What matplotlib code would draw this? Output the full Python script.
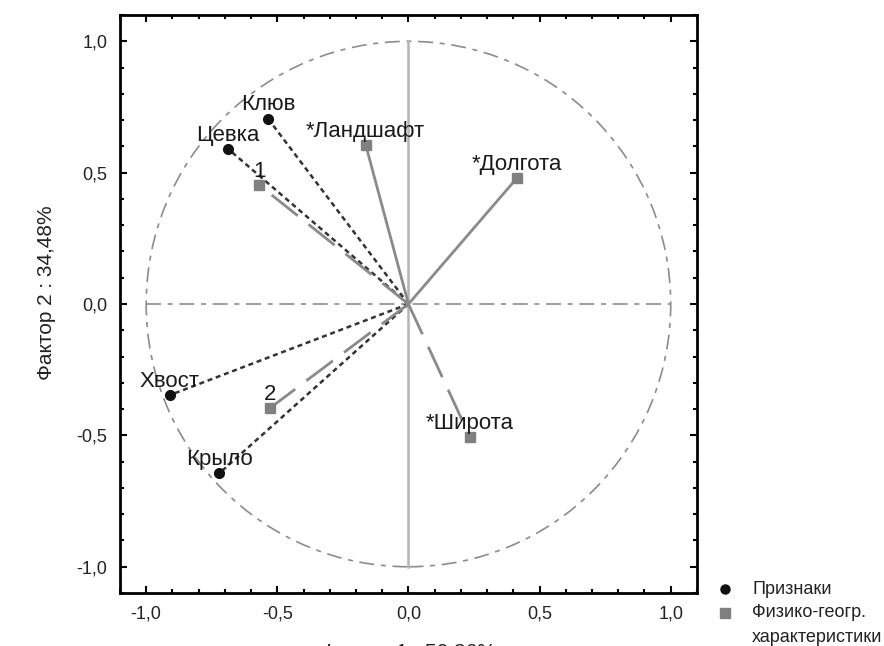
import matplotlib
matplotlib.use("Agg")
import matplotlib.pyplot as plt
from matplotlib.patches import Circle
from matplotlib.lines import Line2D
from matplotlib.ticker import MultipleLocator

plt.rcParams['font.family'] = ['Liberation Sans', 'DejaVu Sans']

# признаки (чёрные точки)
trait_names = ['Клюв', 'Цевка', 'Хвост', 'Крыло']
trait_x = [-0.535, -0.687, -0.911, -0.721]
trait_y = [0.705, 0.590, -0.347, -0.644]

# физико-географические характеристики (серые квадраты)
geo_names = ['*Ландшафт', '*Долгота', '1', '2', '*Широта']
geo_x = [-0.163, 0.414, -0.569, -0.528, 0.235]
geo_y = [0.606, 0.480, 0.453, -0.396, -0.507]
geo_dashed = [False, False, True, True, True]

tick_vals = [-1.0, -0.5, 0.0, 0.5, 1.0]
tick_labels = ['-1,0', '-0,5', '0,0', '0,5', '1,0']

legend_labels = ['Признаки', 'Физико-геогр.', 'характеристики']

fig = plt.figure(figsize=(8.84, 6.46), dpi=100)
ax = fig.add_axes([0.1357, 0.0820, 0.6527, 0.8947])

gray_c = '#8a8a8a'
ax.add_patch(Circle((0, 0), 1.0, fill=False, ec='#8c8c8c', lw=1.2,
                    ls=(0, (9, 4, 3, 4))))
ax.plot([-1, 1], [0, 0], color='#8c8c8c', lw=1.2, ls=(0, (9, 4, 3, 4)))
ax.plot([0, 0], [-1, 1], color='#b4b4b4', lw=1.8)

for x, y in zip(trait_x, trait_y):
    ax.plot([0, x], [0, y], color='#333333', lw=1.8, ls=(0, (2, 1.5)))
for x, y, d in zip(geo_x, geo_y, geo_dashed):
    ls = (0, (12, 5)) if d else '-'
    ax.plot([0, x], [0, y], color=gray_c, lw=2, ls=ls)

ax.plot(trait_x, trait_y, 'o', color='#111111', ms=7, ls='none')
ax.plot(geo_x, geo_y, 's', color='#808080', ms=7, ls='none')

for name, x, y in zip(trait_names + geo_names, trait_x + geo_x, trait_y + geo_y):
    ax.annotate(name, (x, y), xytext=(0, 6), textcoords='offset points',
                ha='center', va='baseline', fontsize=16, color='#1a1a1a')

ax.set_xlim(-1.1, 1.1)
ax.set_ylim(-1.1, 1.1)
ax.set_xticks(tick_vals)
ax.set_xticklabels(tick_labels)
ax.set_yticks(tick_vals)
ax.set_yticklabels(tick_labels)
ax.xaxis.set_minor_locator(MultipleLocator(0.1))
ax.yaxis.set_minor_locator(MultipleLocator(0.1))
ax.tick_params(which='both', direction='in', top=True, right=True, width=1.5,
               labelsize=13, colors='black', labelcolor='#222222')
ax.tick_params(which='major', length=5, pad=9)
ax.tick_params(which='minor', length=3)
for s in ax.spines.values():
    s.set_linewidth(2)

ax.set_ylabel('Фактор 2 : 34,48%', fontsize=15, color='#222222')
ax.yaxis.set_label_coords(-0.11, 0.52)
ax.set_xlabel('Фактор 1 : 50,36%', fontsize=15, color='#222222')
ax.xaxis.set_label_coords(0.5, -0.087)

# легенда справа внизу
fig.add_artist(Line2D([0.8201], [0.0882], marker='o', color='#111111', ms=6.5,
                      ls='none', transform=fig.transFigure))
fig.add_artist(Line2D([0.8201], [0.0511], marker='s', color='#808080', ms=6.5,
                      ls='none', transform=fig.transFigure))
for lab, yy in zip(legend_labels, [0.0882, 0.0511, 0.0124]):
    fig.text(0.8507, yy, lab, fontsize=13, va='center', ha='left', color='#222222')

fig.savefig('out.png', dpi=100)
